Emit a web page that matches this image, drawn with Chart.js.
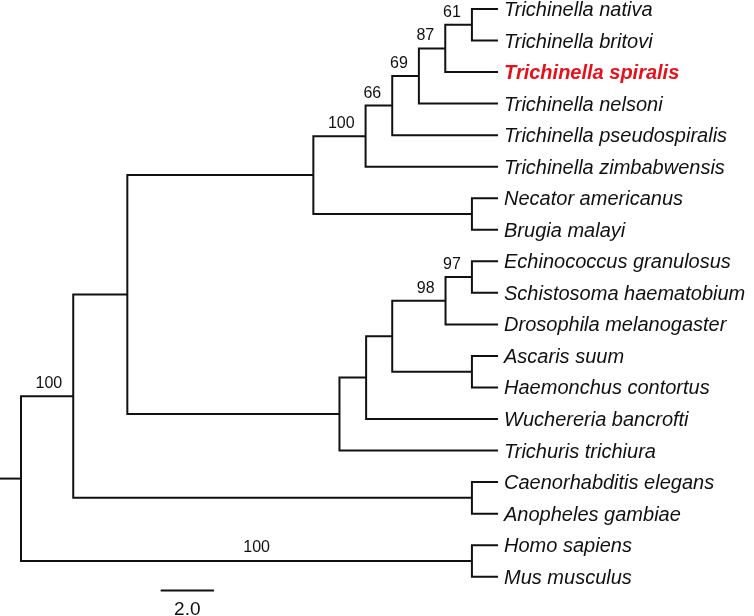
<!DOCTYPE html>
<html>
<head>
<meta charset="utf-8">
<script src="https://cdn.jsdelivr.net/npm/chart.js@4.4.1/dist/chart.umd.min.js"></script>
<style>
  html, body { margin: 0; padding: 0; background: #fff; }
  canvas { display: block; }
</style>
</head>
<body>
<canvas id="treeChart" width="754" height="616"></canvas>
<script>
// Leaves, top to bottom (y = row index)
const taxa = [
    'Trichinella nativa',
    'Trichinella britovi',
    'Trichinella spiralis',
    'Trichinella nelsoni',
    'Trichinella pseudospiralis',
    'Trichinella zimbabwensis',
    'Necator americanus',
    'Brugia malayi',
    'Echinococcus granulosus',
    'Schistosoma haematobium',
    'Drosophila melanogaster',
    'Ascaris suum',
    'Haemonchus contortus',
    'Wuchereria bancrofti',
    'Trichuris trichiura',
    'Caenorhabditis elegans',
    'Anopheles gambiae',
    'Homo sapiens',
    'Mus musculus',
];
const highlightTaxon = 'Trichinella spiralis';
const tipDepth = 17.9;

// Internal nodes: depth from root, children (string = node, number = leaf row), bootstrap
const nodeKeys  = ['root', 'n2', 'n3', 'n4', 'n5', 'n6', 'n7', 'n8', 'n9', 'nNB', 'n10', 'n11', 'n12', 'n13', 'n14', 'nAH', 'nCA', 'nHM'];
const nodeDepth = [0, 1.96, 3.99, 10.97, 12.93, 13.93, 14.93, 15.92, 16.92, 16.92, 11.95, 12.95, 13.93, 15.93, 16.92, 16.92, 16.92, 16.92];
const nodeKids  = [
    ['n2', 'nHM'], ['n3', 'nCA'], ['n4', 'n10'], ['n5', 'nNB'], ['n6', 5], ['n7', 4], ['n8', 3], ['n9', 2], [0, 1], [6, 7],
    ['n11', 14], ['n12', 13], ['n13', 'nAH'], ['n14', 10], [8, 9], [11, 12], [15, 16], [17, 18],
];
const bootstrap = [null, 100, null, null, 100, 66, 69, 87, 61, null, null, null, null, 98, 97, null, null, 100];
// label centred over the branch instead of at the node (depth of centre)
const bootstrapMid = [null, null, null, null, null, null, null, null, null, null, null, null, null, null, null, null, null, 8.84];

const scaleBarLength = 2.0;
const scaleBarLabel = '2.0';

const fontFamily = '"Liberation Sans", Arial, Helvetica, sans-serif';
const lineColor = '#111';

let idx = (k) => nodeKeys.indexOf(k);
let depthOf = (k) => typeof k === 'number' ? tipDepth : nodeDepth[idx(k)];
let rowOf = (k) => {
    if (typeof k === 'number') return k;
    let kids = nodeKids[idx(k)];
    return (rowOf(kids[0]) + rowOf(kids[1])) / 2;
};

let datasets = [];
nodeKeys.forEach((k, i) => {
    let [a, b] = nodeKids[i];
    datasets.push({
        data: [
            {x: depthOf(a), y: rowOf(a)},
            {x: nodeDepth[i], y: rowOf(a)},
            {x: nodeDepth[i], y: rowOf(b)},
            {x: depthOf(b), y: rowOf(b)},
        ],
    });
});
// root stub
datasets.push({data: [{x: -1, y: rowOf('root')}, {x: 0, y: rowOf('root')}]});
// scale bar
const scaleBarX = 5.24, scaleBarRow = 18.44;
datasets.push({data: [{x: scaleBarX, y: scaleBarRow}, {x: scaleBarX + scaleBarLength, y: scaleBarRow}]});

datasets.forEach(d => Object.assign(d, {
    showLine: true,
    pointRadius: 0,
    borderColor: lineColor,
    borderWidth: 2,
    borderJoinStyle: 'miter',
    borderCapStyle: 'butt',
    tension: 0,
    fill: false,
}));

// Draws taxon names, bootstrap values and the scale label
const treeLabels = {
    id: 'treeLabels',
    afterDatasetsDraw(chart) {
        const ctx = chart.ctx;
        const xs = chart.scales.x, ys = chart.scales.y;
        ctx.save();
        ctx.textBaseline = 'alphabetic';

        taxa.forEach((name, row) => {
            let hl = name === highlightTaxon;
            ctx.font = (hl ? 'italic bold ' : 'italic ') + '20px ' + fontFamily;
            ctx.fillStyle = hl ? '#e8101a' : '#111';
            ctx.textAlign = 'left';
            ctx.fillText(name, xs.getPixelForValue(tipDepth) + 6, ys.getPixelForValue(row) + 7);
        });

        ctx.font = '16px ' + fontFamily;
        ctx.fillStyle = '#111';
        nodeKeys.forEach((k, i) => {
            if (bootstrap[i] === null) return;
            let py = ys.getPixelForValue(rowOf(k));
            if (bootstrapMid[i] !== null) {
                ctx.textAlign = 'center';
                ctx.fillText(String(bootstrap[i]), xs.getPixelForValue(bootstrapMid[i]), py - 9);
            } else {
                ctx.textAlign = 'right';
                ctx.fillText(String(bootstrap[i]), xs.getPixelForValue(nodeDepth[i]) - 11, py - 8);
            }
        });

        ctx.font = '19px ' + fontFamily;
        ctx.textAlign = 'center';
        ctx.fillText(scaleBarLabel,
            xs.getPixelForValue(scaleBarX + scaleBarLength / 2),
            ys.getPixelForValue(scaleBarRow) + 24);
        ctx.restore();
    }
};

new Chart(document.getElementById('treeChart').getContext('2d'), {
    type: 'scatter',
    data: {datasets: datasets},
    options: {
        responsive: false,
        animation: false,
        devicePixelRatio: 1,
        layout: {padding: 0},
        plugins: {
            legend: {display: false},
            tooltip: {enabled: false},
        },
        scales: {
            x: {type: 'linear', display: false, min: -21 / 26.65, max: (754 - 21) / 26.65},
            y: {type: 'linear', display: false, reverse: true, min: -9 / 31.54, max: (616 - 9) / 31.54},
        },
    },
    plugins: [treeLabels],
});
</script>
</body>
</html>
